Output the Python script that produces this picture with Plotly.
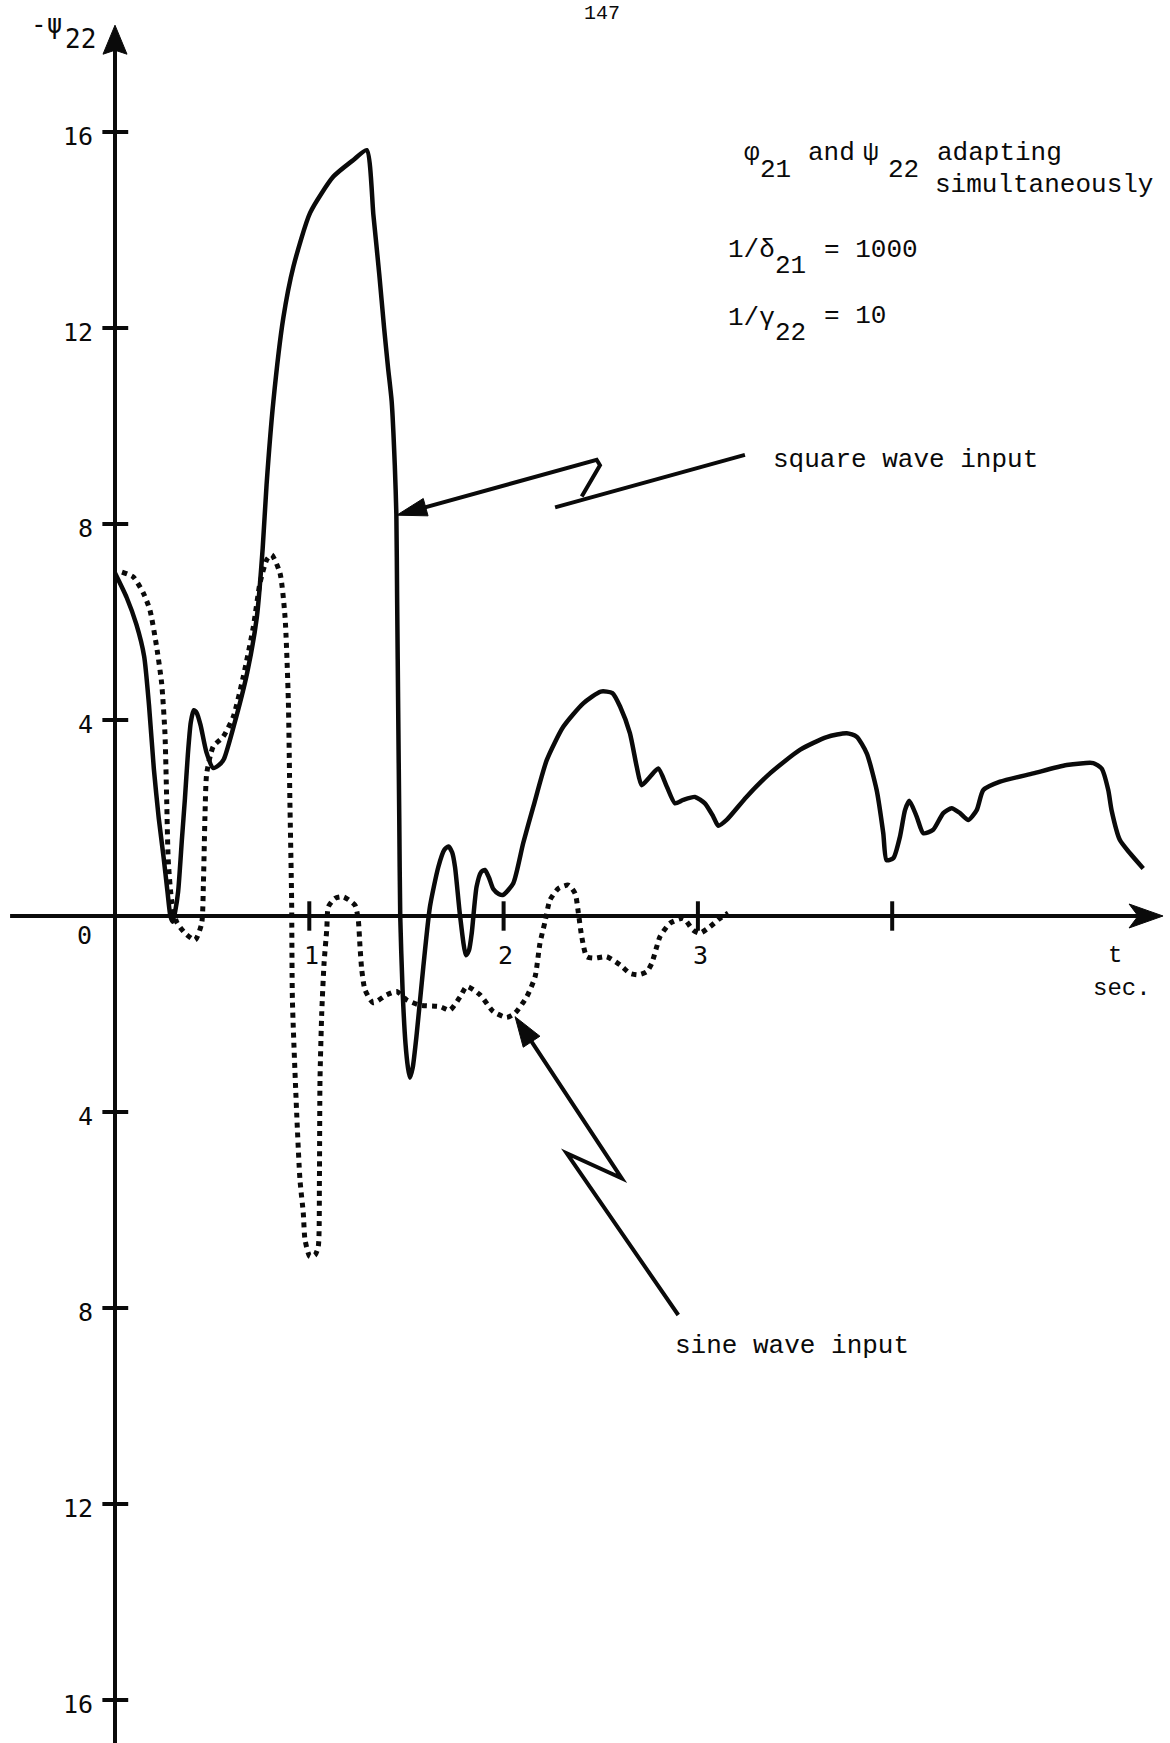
import plotly.graph_objects as go

W, H = 1170, 1743

# -psi22 response to a square-wave input (solid curve)
square_t = [0.0, 0.06, 0.11, 0.15, 0.175, 0.2, 0.225, 0.25, 0.27, 0.285, 0.297, 0.31,
            0.325, 0.345, 0.36, 0.375, 0.39, 0.405, 0.42, 0.44, 0.47, 0.505, 0.535, 0.56,
            0.61, 0.68, 0.73, 0.76, 0.78, 0.815, 0.866, 0.918, 1.004, 1.124, 1.227, 1.295,
            1.33, 1.36, 1.385, 1.405, 1.424, 1.44, 1.448, 1.452, 1.458, 1.463, 1.468, 1.48,
            1.495, 1.508, 1.518, 1.532, 1.553, 1.587, 1.621, 1.664, 1.695, 1.716, 1.735,
            1.75, 1.776, 1.806, 1.822, 1.836, 1.861, 1.885, 1.904, 1.925, 1.947, 1.975,
            1.998, 2.05, 2.101, 2.153, 2.222, 2.307, 2.41, 2.5, 2.56, 2.6, 2.65, 2.685,
            2.71, 2.753, 2.796, 2.84, 2.882, 2.925, 2.985, 3.036, 3.079, 3.105, 3.148,
            3.25, 3.371, 3.525, 3.663, 3.766, 3.817, 3.869, 3.92, 3.954, 3.971, 4.006,
            4.04, 4.066, 4.088, 4.126, 4.16, 4.211, 4.263, 4.306, 4.349, 4.392, 4.435,
            4.469, 4.555, 4.726, 4.898, 5.035, 5.078, 5.112, 5.129, 5.172, 5.224, 5.292]
square_v = [7.0, 6.5, 5.95, 5.3, 4.3, 3.0, 2.0, 1.2, 0.5, 0.0, -0.12, 0.1,
            0.5, 1.6, 2.4, 3.3, 3.95, 4.2, 4.15, 3.9, 3.35, 3.02, 3.08, 3.2,
            3.86, 4.96, 6.1, 7.5, 8.8, 10.5, 12.2, 13.25, 14.35, 15.09, 15.43, 15.63,
            14.3, 13.1, 12.0, 11.2, 10.5, 9.2, 8.2, 6.5, 4.0, 2.0, 0.0, -1.5,
            -2.6, -3.1, -3.3, -3.1, -2.4, -1.03, 0.19, 1.0, 1.35, 1.42, 1.3,
            1.0, 0.0, -0.8, -0.7, -0.35, 0.6, 0.9, 0.94, 0.78, 0.55, 0.45,
            0.43, 0.67, 1.49, 2.23, 3.18, 3.86, 4.34, 4.58, 4.55, 4.27, 3.73, 3.05,
            2.67, 2.84, 3.01, 2.64, 2.3, 2.37, 2.43, 2.3, 2.03, 1.84, 1.96,
            2.43, 2.91, 3.39, 3.65, 3.73, 3.66, 3.32, 2.57, 1.69, 1.14, 1.18,
            1.62, 2.16, 2.35, 2.03, 1.69, 1.76, 2.1, 2.2, 2.1, 1.96, 2.16,
            2.57, 2.74, 2.91, 3.08, 3.12, 3.01, 2.57, 2.16, 1.55, 1.28, 0.97]

# -psi22 response to a sine-wave input (dotted curve)
sine_t = [0.036, 0.094, 0.146, 0.18, 0.214, 0.24, 0.257, 0.266, 0.274, 0.291, 0.317,
          0.36, 0.412, 0.446, 0.455, 0.463, 0.472, 0.506, 0.557, 0.609, 0.66, 0.712,
          0.746, 0.781, 0.806, 0.849, 0.875, 0.892, 0.9, 0.909, 0.913, 0.935, 0.952,
          0.969, 0.978, 1.003, 1.029, 1.046, 1.052, 1.055, 1.064, 1.076, 1.09, 1.098,
          1.132, 1.175, 1.235, 1.252, 1.261, 1.27, 1.287, 1.329, 1.398, 1.45, 1.501,
          1.57, 1.673, 1.724, 1.776, 1.81, 1.879, 1.947, 2.016, 2.059, 2.119, 2.162,
          2.187, 2.213, 2.239, 2.282, 2.333, 2.368, 2.385, 2.402, 2.428, 2.47, 2.53,
          2.6, 2.65, 2.693, 2.736, 2.762, 2.788, 2.805, 2.856, 2.925, 2.976, 3.011,
          3.062, 3.113, 3.156]
sine_v = [7.02, 6.92, 6.59, 6.24, 5.5, 4.75, 3.73, 2.37, 1.14, 0.33, -0.12,
          -0.35, -0.49, -0.15, 0.67, 2.03, 2.91, 3.46, 3.66, 4.07, 4.88, 5.9,
          6.79, 7.27, 7.37, 7.0, 6.11, 4.41, 2.37, 0.33, -1.71, -4.02, -5.39,
          -6.06, -6.61, -6.95, -6.92, -6.75, -5.39, -3.35, -1.98, -0.96, -0.27, 0.19,
          0.36, 0.39, 0.22, -0.08, -0.63, -1.1, -1.51, -1.77, -1.61, -1.54, -1.71,
          -1.82, -1.85, -1.92, -1.65, -1.44, -1.61, -1.95, -2.07, -1.98, -1.65, -1.24,
          -0.56, -0.12, 0.33, 0.56, 0.63, 0.46, 0.06, -0.42, -0.83, -0.86, -0.83,
          -1.0, -1.17, -1.2, -1.14, -0.97, -0.63, -0.42, -0.15, -0.05, -0.29, -0.35,
          -0.22, -0.05, 0.06]

# axis ticks and their printed labels (the lower half is labelled without sign)
y_ticks = [16, 12, 8, 4, 0, -4, -8, -12, -16]
y_tick_text = ["16", "12", "8", "4", "0", "4", "8", "12", "16"]
x_ticks = [1, 2, 3, 4]
x_tick_text = ["1", "2", "3", ""]

# zig-zag pointers from the captions to the curves (last point is the tip)
square_pointer_t = [2.479, 2.496, 2.402]
square_pointer_v = [9.31, 9.2, 8.56]
square_pointer_tail_t = [2.265, 3.242]
square_pointer_tail_v = [8.34, 9.41]
square_pointer_tip = (1.45, 8.18)
sine_pointer_t = [2.899, 2.325, 2.608]
sine_pointer_v = [-8.143, -4.843, -5.353]
sine_pointer_tip = (2.059, -2.055)

X_RANGE = [-0.5919, 5.4298]
Y_RANGE = [-16.878, 18.694]
PX_T = W / (X_RANGE[1] - X_RANGE[0])
PX_V = H / (Y_RANGE[1] - Y_RANGE[0])

INK = "#0a0a0a"
MONO = "Liberation Mono"
NUM = "DejaVu Sans Mono"


def head_points(tip, tail, length, half_w, notch=0.0):
    """Arrowhead corners in data units, shaped in screen pixels."""
    dx = (tip[0] - tail[0]) * PX_T
    dy = (tip[1] - tail[1]) * PX_V
    n = (dx * dx + dy * dy) ** 0.5
    ux, uy = dx / n, dy / n
    nx, ny = -uy, ux

    def pt(back, side):
        return (tip[0] + (-ux * back + nx * side) / PX_T,
                tip[1] + (-uy * back + ny * side) / PX_V)

    return [tip, pt(length, half_w), pt(length - notch, 0.0), pt(length, -half_w)]


def head_path(tip, tail, length, half_w, notch=0.0):
    pts = head_points(tip, tail, length, half_w, notch)
    return "M " + " L ".join(f"{a:.5f},{b:.5f}" for a, b in pts) + " Z"


def shorten(tip, tail, px):
    dx = (tip[0] - tail[0]) * PX_T
    dy = (tip[1] - tail[1]) * PX_V
    n = (dx * dx + dy * dy) ** 0.5
    return (tip[0] - dx / n * px / PX_T, tip[1] - dy / n * px / PX_V)


fig = go.Figure()

fig.add_trace(go.Scatter(
    x=square_t, y=square_v, mode="lines", name="square wave input",
    line=dict(color=INK, width=4.5, shape="spline", smoothing=0.6),
    hoverinfo="skip"))
fig.add_trace(go.Scatter(
    x=sine_t, y=sine_v, mode="lines", name="sine wave input",
    line=dict(color=INK, width=5, dash="5px,5px", shape="spline", smoothing=0.6),
    hoverinfo="skip"))

shapes = []
line_style = dict(color=INK, width=4)

# time axis with arrow
x_tip = (5.394, 0.0)
x_start = (-0.54, 0.0)
x_end = shorten(x_tip, x_start, 20)
shapes.append(dict(type="line", xref="x", yref="y", x0=x_start[0], y0=0, x1=x_end[0], y1=0,
                   line=line_style))
shapes.append(dict(type="path", xref="x", yref="y",
                   path=head_path(x_tip, x_start, 34, 12, notch=9),
                   fillcolor=INK, line=dict(color=INK, width=1)))

# vertical axis with arrow
y_tip = (0.0, 18.18)
y_start = (0.0, -17.2)
y_end = shorten(y_tip, y_start, 18)
shapes.append(dict(type="line", xref="x", yref="y", x0=0, y0=y_start[1], x1=0, y1=y_end[1],
                   line=line_style))
shapes.append(dict(type="path", xref="x", yref="y",
                   path=head_path(y_tip, y_start, 29, 12, notch=4),
                   fillcolor=INK, line=dict(color=INK, width=1)))

# tick marks
for v in y_ticks:
    if v == 0:
        continue
    shapes.append(dict(type="line", xref="x", yref="y", x0=-0.065, x1=0.068, y0=v, y1=v,
                       line=line_style))
for t in x_ticks:
    shapes.append(dict(type="line", xref="x", yref="y", x0=t, x1=t, y0=0.3, y1=-0.3,
                       line=line_style))

# pointers
ptr_style = dict(color=INK, width=4)
shapes.append(dict(type="line", xref="x", yref="y",
                   x0=square_pointer_tail_t[0], y0=square_pointer_tail_v[0],
                   x1=square_pointer_tail_t[1], y1=square_pointer_tail_v[1], line=ptr_style))
sq_path_pts = list(zip(square_pointer_t, square_pointer_v))
sq_first = sq_path_pts[0]
sq_stop = shorten(square_pointer_tip, sq_first, 18)
path = f"M {sq_path_pts[-1][0]},{sq_path_pts[-1][1]}"
for a, b in reversed(sq_path_pts[:-1]):
    path += f" L {a},{b}"
path += f" L {sq_stop[0]},{sq_stop[1]}"
shapes.append(dict(type="path", xref="x", yref="y", path=path, line=ptr_style))
shapes.append(dict(type="path", xref="x", yref="y",
                   path=head_path(square_pointer_tip, sq_first, 30, 9),
                   fillcolor=INK, line=dict(color=INK, width=1)))

sn_pts = list(zip(sine_pointer_t, sine_pointer_v))
sn_last = sn_pts[-1]
sn_stop = shorten(sine_pointer_tip, sn_last, 18)
path = f"M {sn_pts[0][0]},{sn_pts[0][1]}"
for a, b in sn_pts[1:]:
    path += f" L {a},{b}"
path += f" L {sn_stop[0]},{sn_stop[1]}"
shapes.append(dict(type="path", xref="x", yref="y", path=path, line=ptr_style))
shapes.append(dict(type="path", xref="x", yref="y",
                   path=head_path(sine_pointer_tip, sn_last, 30, 10),
                   fillcolor=INK, line=dict(color=INK, width=1)))

annotations = []


def label(x, y, text, size, family=MONO, xanchor="left", yanchor="middle"):
    annotations.append(dict(x=x, y=y, xref="x", yref="y", text=text, showarrow=False,
                            xanchor=xanchor, yanchor=yanchor,
                            font=dict(family=family, size=size, color=INK)))


TICK_FS = 25
for v, s in zip(y_ticks, y_tick_text):
    if v == 0:
        label(-0.11, -0.39, s, TICK_FS, NUM, xanchor="right")
    else:
        label(-0.103, v - 0.1, s, TICK_FS, NUM, xanchor="right")
for t, s in zip(x_ticks, x_tick_text):
    if s:
        label(t + 0.012, -0.8, s, TICK_FS, NUM, xanchor="center")

# axis titles
label(-0.262, 18.2, "-ψ", 26, NUM, xanchor="right")
label(-0.27, 17.9, "22", 26, NUM)
label(5.147, -0.8, "t", 24, MONO, xanchor="center")
label(5.183, -1.47, "sec.", 24, MONO, xanchor="center")

# parameter block
FS = 26
label(3.227, 15.571, "φ", FS)
label(3.309, 15.224, "21", FS)
label(3.556, 15.571, "and", FS)
label(3.839, 15.571, "ψ", FS)
label(3.968, 15.224, "22", FS)
label(4.220, 15.571, "adapting", FS)
label(4.210, 14.918, "simultaneously", FS)
label(3.145, 13.592, "1/δ", FS)
label(3.387, 13.265, "21", FS)
label(3.639, 13.592, "= 1000", FS)
label(3.145, 12.204, "1/γ", FS)
label(3.387, 11.898, "22", FS)
label(3.639, 12.245, "= 10", FS)

# curve captions
label(3.376, 9.306, "square wave input", FS)
label(2.872, -8.776, "sine wave input", FS)

# page number
label(2.506, Y_RANGE[1], "147", 20, MONO, xanchor="center", yanchor="top")

fig.update_layout(
    width=W, height=H,
    margin=dict(l=0, r=0, t=0, b=0, pad=0),
    paper_bgcolor="white", plot_bgcolor="white",
    showlegend=False,
    xaxis=dict(range=X_RANGE, visible=False, fixedrange=True),
    yaxis=dict(range=Y_RANGE, visible=False, fixedrange=True),
    shapes=shapes,
    annotations=annotations,
)

fig.write_html("out.html", config={"displayModeBar": False})
